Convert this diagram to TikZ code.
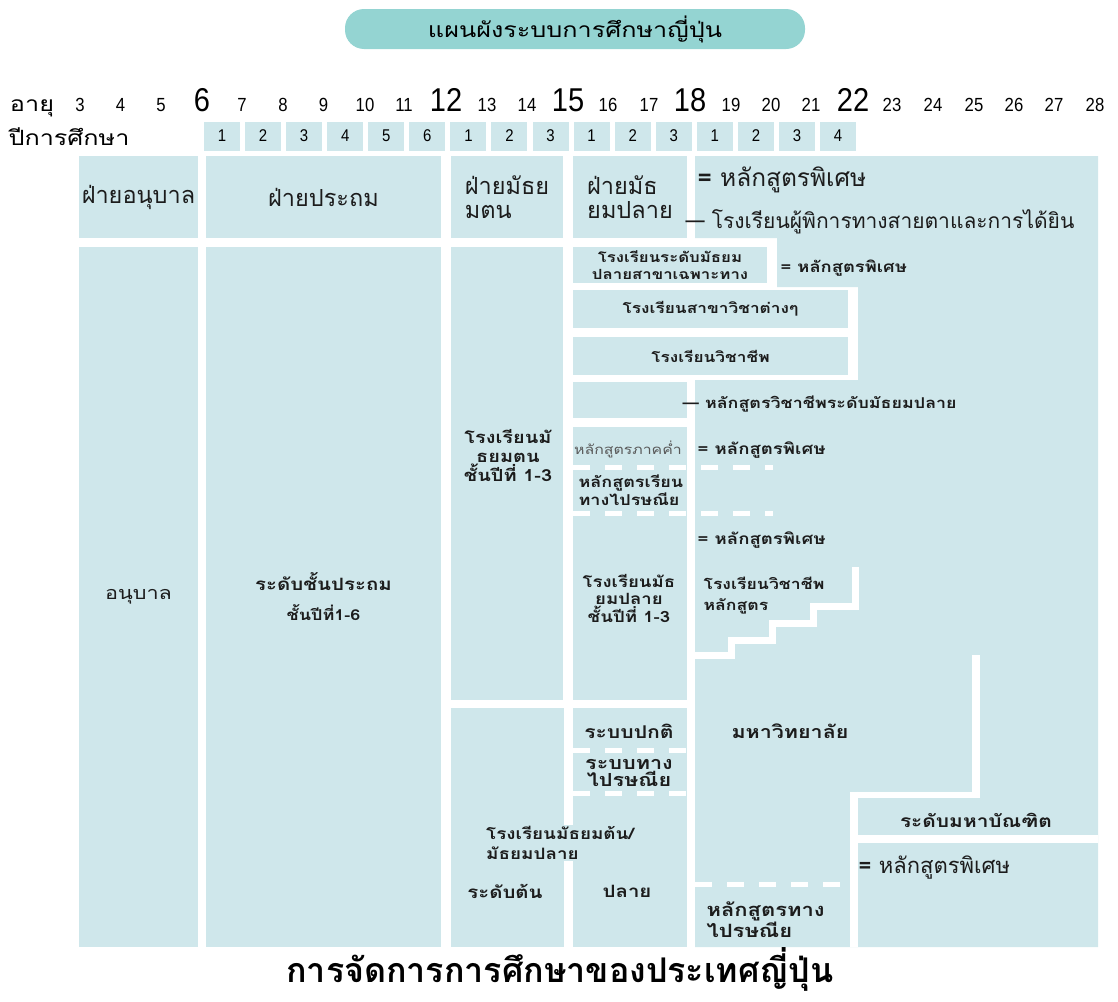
\documentclass[tikz,border=0pt]{standalone}
\usepackage{fontspec}
\setmainfont[Script=Thai]{Loma}
\newfontfamily\widefont[Script=Thai, FakeStretch=1.2]{Loma}
\newfontfamily\numfont[FakeStretch=0.88]{Liberation Sans}
\usepackage{tikz}
\usetikzlibrary{positioning}
\definecolor{paleblue}{RGB}{207,231,235}
\definecolor{pillteal}{RGB}{148,212,210}
\definecolor{inkgray}{RGB}{28,28,28}
\newcommand{\fs}[2]{\fontsize{#1}{#2}\selectfont}

\begin{document}
\begin{tikzpicture}[x=1pt, y=-1pt,
  blk/.style={fill=paleblue, inner sep=0pt},
  yearbox/.style={fill=paleblue, minimum width=36pt, minimum height=29pt, inner sep=0pt, font=\numfont\fs{17}{17}},
  age/.style={font=\numfont\fs{19}{19}, anchor=base},
  bigage/.style={font=\numfont\fs{33}{33}, anchor=base},
  head/.style={font=\fs{23.5}{24}, align=left, text=inkgray},
  lbl/.style={font=\widefont\bfseries\fs{14}{17}, align=center, text=inkgray},
  note/.style={font=\widefont\bfseries\fs{14}{17}, anchor=west, align=left, text=inkgray},
  cut/.style={draw=white, line width=7pt},
  dcut/.style={draw=white, line width=5pt, dash pattern=on 17pt off 15pt},
]
\useasboundingbox (0,0) rectangle (1118,1001);

% title
\node[fill=pillteal, rounded corners=19pt, minimum width=460pt, minimum height=40pt, font=\widefont\fs{21}{21}] (ttl) at (575,29) {แผนผังระบบการศึกษาญี่ปุ่น};

% age row
\node[age, font=\widefont\fs{21}{21}] (agelbl) at (32,111) {อายุ};
\node[age] (a3) at (80,111) {3};
\node[age] (a4) at (120.6,111) {4};
\node[age] (a5) at (161,111) {5};
\node[bigage] (a6) at (202,111) {6};
\node[age] (a7) at (242,111) {7};
\node[age] (a8) at (283,111) {8};
\node[age] (a9) at (323.6,111) {9};
\node[age] (a10) at (365,111) {10};
\node[age] (a11) at (404,111) {11};
\node[bigage] (a12) at (446,111) {12};
\node[age] (a13) at (487,111) {13};
\node[age] (a14) at (527,111) {14};
\node[bigage] (a15) at (568,111) {15};
\node[age] (a16) at (608,111) {16};
\node[age] (a17) at (649,111) {17};
\node[bigage] (a18) at (690,111) {18};
\node[age] (a19) at (731,111) {19};
\node[age] (a20) at (771,111) {20};
\node[age] (a21) at (811,111) {21};
\node[bigage] (a22) at (853,111) {22};
\node[age] (a23) at (892,111) {23};
\node[age] (a24) at (933,111) {24};
\node[age] (a25) at (974,111) {25};
\node[age] (a26) at (1014,111) {26};
\node[age] (a27) at (1054,111) {27};
\node[age] (a28) at (1095,111) {28};

% school years
\node[age, font=\widefont\fs{21}{21}] (yrlbl) at (69,145) {ปีการศึกษา};
\node[yearbox] (y1) at (222,136) {1};
\node[yearbox, right=4.67pt of y1] (y2) {2};
\node[yearbox, right=4.67pt of y2] (y3) {3};
\node[yearbox, right=4.67pt of y3] (y4) {4};
\node[yearbox, right=4.67pt of y4] (y5) {5};
\node[yearbox, right=4.67pt of y5] (y6) {6};
\node[yearbox, right=4.67pt of y6] (y7) {1};
\node[yearbox, right=4.67pt of y7] (y8) {2};
\node[yearbox, right=4.67pt of y8] (y9) {3};
\node[yearbox, right=4.67pt of y9] (y10) {1};
\node[yearbox, right=4.67pt of y10] (y11) {2};
\node[yearbox, right=4.67pt of y11] (y12) {3};
\node[yearbox, right=4.67pt of y12] (y13) {1};
\node[yearbox, right=4.67pt of y13] (y14) {2};
\node[yearbox, right=4.67pt of y14] (y15) {3};
\node[yearbox, right=4.67pt of y15] (y16) {4};

% divisions
\node[blk, head, minimum width=119pt, minimum height=82pt] (kgtop) at (138.5,197) {ฝ่ายอนุบาล};
\node[blk, head, minimum width=235pt, minimum height=82pt] (pritop) at (323.5,197) {ฝ่ายประถม};
\node[blk, head, minimum width=112pt, minimum height=82pt] (lowtop) at (507,197) {ฝ่ายมัธย\\มตน};
\node[blk, head, minimum width=114pt, minimum height=82pt] (upptop) at (630,197) {ฝ่ายมัธ\\ยมปลาย};

% right block (after 18)
\fill[paleblue] (695,156) -- (1098,156) -- (1098,947) -- (695,947) -- (695,380) -- (858,380)
  -- (858,287) -- (777,287) -- (777,238) -- (695,238) -- cycle;

% columns
\node[blk, minimum width=119pt, minimum height=700pt, font=\widefont\fs{18}{18}, text=inkgray] (kg) at (138.5,597) {อนุบาล};
\node[blk, minimum width=235pt, minimum height=700pt, align=center, text=inkgray, font=\widefont\bfseries] (pri) at (323.5,597)
  {{\fs{17}{17}ระดับชั้นประถม}\\[13pt]{\fs{15}{15}ชั้นปีที่1-6}};
\node[blk, minimum width=112pt, minimum height=453pt] (low) at (507,473.5) {};
\node[lbl, font=\widefont\bfseries\fs{16.6}{19}] (lowlbl) at (508,456) {โรงเรียนมั\\ธยมตน\\ชั้นปีที่ 1-3};

\node[blk, lbl, minimum width=194pt, minimum height=36pt, font=\widefont\bfseries\fs{14}{17}] (spec) at (670,265) {โรงเรียนระดับมัธยม\\ปลายสาขาเฉพาะทาง};
\node[blk, lbl, minimum width=275pt, minimum height=38pt, font=\widefont\bfseries\fs{14.4}{17}] (branch) at (710.5,309) {โรงเรียนสาขาวิชาต่างๆ};
\node[blk, lbl, minimum width=275pt, minimum height=38pt, font=\widefont\bfseries\fs{14.4}{17}] (voc) at (710.5,356) {โรงเรียนวิชาชีพ};
\node[blk, minimum width=114pt, minimum height=36pt] (vcourse) at (630,400) {};
\node[blk, minimum width=114pt, minimum height=273pt] (upp) at (630,563.5) {};
\node[lbl, font=\widefont\fs{13.2}{13}, text=black!65] (night) at (628,449) {หลักสูตรภาคค่ำ};
\node[note, font=\widefont\bfseries\fs{15}{15.5}] (postlbl) at (575,490) {หลักสูตรเรียน\\ทางไปรษณีย};
\node[lbl, font=\widefont\bfseries\fs{15.5}{17.5}] (upplbl) at (629,598) {โรงเรียนมัธ\\ยมปลาย\\ชั้นปีที่ 1-3};

\node[blk, minimum width=113pt, minimum height=239pt] (mixlow) at (507.5,827.5) {};
\node[blk, minimum width=114pt, minimum height=239pt] (mixupp) at (630,827.5) {};

% white separators
\draw[dcut] (573,467.5) -- (773,467.5);
\draw[dcut] (573,513) -- (773,513);
\draw[dcut] (573,750) -- (687,750);
\draw[dcut] (573,793) -- (687,793);
\draw[cut] (695,655.5) -- (731.5,655.5) -- (731.5,640) -- (772.5,640) -- (772.5,623)
  -- (813.5,623) -- (813.5,606) -- (855,606) -- (855,567);
\draw[cut, line width=8pt] (976,655) -- (976,797);
\draw[cut, line width=6pt] (850,794.5) -- (980,794.5);
\draw[cut, line width=8pt] (854,791.5) -- (854,947);
\draw[cut, line width=8pt] (858,839) -- (1098,839);
\draw[dcut] (695,884.5) -- (850,884.5);

% labels, right side
\node[note, font=\fs{24.5}{24}] (sp1) at (694,180) {{\bfseries=} หลักสูตรพิเศษ};
\node[note, font=\fs{21}{21}] (blind) at (682,222) {— โรงเรียนผู้พิการทางสายตาและการได้ยิน};
\node[note, font=\widefont\bfseries\fs{15.3}{15}] (sp2) at (777,268) {= หลักสูตรพิเศษ};
\node[note, font=\widefont\bfseries\fs{14.9}{15}] (vclbl) at (679,404) {— หลักสูตรวิชาชีพระดับมัธยมปลาย};
\node[note, font=\widefont\bfseries\fs{15.5}{15}] (sp3) at (694,450) {= หลักสูตรพิเศษ};
\node[note, font=\widefont\bfseries\fs{15.5}{15}] (sp4) at (694,540) {= หลักสูตรพิเศษ};
\node[note, font=\widefont\bfseries\fs{14.7}{21}] (vocc) at (700,596) {โรงเรียนวิชาชีพ\\หลักสูตร};
\node[lbl, font=\widefont\bfseries\fs{17.9}{18}] (uni) at (790,731) {มหาวิทยาลัย};
\node[lbl, font=\widefont\bfseries\fs{17.4}{18}] (grad) at (976,820) {ระดับมหาบัณฑิต};
\node[note, font=\fs{22}{22}] (sp5) at (855,868) {{\bfseries=} หลักสูตรพิเศษ};
\node[note, font=\widefont\bfseries\fs{18.3}{18}] (corr) at (703,920) {หลักสูตรทาง\\ไปรษณีย};

% labels, bottom left
\node[lbl, font=\widefont\bfseries\fs{17.6}{17}] (normal) at (629,731) {ระบบปกติ};
\node[lbl, font=\widefont\bfseries\fs{18}{15}] (postal) at (629,773) {ระบบทาง\\ไปรษณีย};
\node[note, fill=paleblue, inner sep=1pt, font=\widefont\bfseries\fs{15.7}{20}] (mixlbl) at (485,843) {โรงเรียนมัธยมต้น/\\มัธยมปลาย};
\node[lbl, font=\widefont\bfseries\fs{17}{17}] (lowpart) at (505,891) {ระดับต้น};
\node[lbl, font=\widefont\bfseries\fs{17}{17}] (upppart) at (627,891) {ปลาย};

% caption
\node[font=\bfseries\fs{34}{34}] (cap) at (560,969) {การจัดการการศึกษาของประเทศญี่ปุ่น};
\end{tikzpicture}
\end{document}
